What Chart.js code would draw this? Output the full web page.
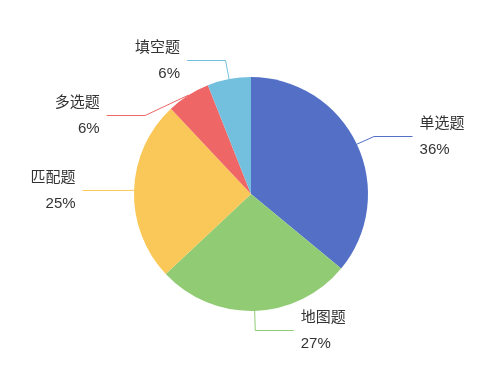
<!DOCTYPE html>
<html><head><meta charset="utf-8">
<script src="https://cdn.jsdelivr.net/npm/chart.js@4"></script>
<style>html,body{margin:0;padding:0;background:#fff;overflow:hidden}#wrap{width:499px;height:378px;position:relative}</style>
</head><body><div id="wrap"><canvas id="c" width="499" height="378"></canvas></div>
<script>
const categories = ['单选题', '地图题', '匹配题', '多选题', '填空题'];
const values = [36, 27, 25, 6, 6];
const colors = ['#5470c6', '#91cc75', '#fac858', '#ee6666', '#73c0de'];

const LEN1 = 19, LEN2 = 38.5, TEXT_GAP = 7, LABEL_H = 54.5, SHIFT_RA = 13;
const FONT = '15px "Liberation Sans", "Noto Sans CJK SC", sans-serif';

const labelPlugin = {
  id: 'pieLabels',
  afterDraw(chart) {
    const ctx = chart.ctx;
    const meta = chart.getDatasetMeta(0);
    const total = values.reduce((a, b) => a + b, 0);
    const items = meta.data.map((arc, i) => {
      const a = (arc.startAngle + arc.endAngle) / 2;
      const R = arc.outerRadius, cx = arc.x, cy = arc.y;
      const ex = cx + R * Math.cos(a), ey = cy + R * Math.sin(a);
      const bx = cx + (R + LEN1) * Math.cos(a), by = cy + (R + LEN1) * Math.sin(a);
      return { i, a, R, cx, cy, ex, ey, bx, by, y: by, dir: Math.cos(a) >= 0 ? 1 : -1 };
    });
    [1, -1].forEach(dir => {
      const side = items.filter(it => it.dir === dir).sort((p, q) => p.y - q.y);
      let anyShift = false;
      for (let k = 1; k < side.length; k++) {
        if (side[k].y < side[k - 1].y + LABEL_H) { side[k].y = side[k - 1].y + LABEL_H; anyShift = true; }
      }
      if (!anyShift) return;
      const cx = side[0].cx, cy = side[0].cy, R = side[0].R;
      const rA = R + SHIFT_RA;
      [side.filter(it => it.y < cy), side.filter(it => it.y >= cy)].forEach(semi => {
        if (!semi.length) return;
        let top = semi[0];
        semi.forEach(it => { if (Math.abs(it.y - cy) > Math.abs(top.y - cy)) top = it; });
        const dx0 = top.bx - cx, dy0 = Math.abs(top.y - cy);
        const rB = Math.abs(dx0) < rA ? Math.sqrt(dy0 * dy0 / (1 - dx0 * dx0 / (rA * rA))) : rA;
        semi.forEach(it => {
          if (it === top) return;
          const dy = Math.abs(it.y - cy);
          const dx = Math.sqrt(Math.max(0, 1 - dy * dy / (rB * rB))) * rA;
          it.bx = cx + dir * dx;
          it.by = it.y;
        });
      });
    });
    ctx.save();
    items.forEach(it => {
      const y = Math.round(it.y) + 0.5;
      const endX = it.bx + it.dir * LEN2;
      ctx.strokeStyle = colors[it.i];
      ctx.lineWidth = 1;
      ctx.beginPath();
      ctx.moveTo(it.ex, it.ey);
      ctx.lineTo(it.bx, y);
      ctx.lineTo(endX, y);
      ctx.stroke();
      ctx.fillStyle = '#333';
      ctx.font = FONT;
      ctx.textAlign = it.dir > 0 ? 'left' : 'right';
      ctx.textBaseline = 'alphabetic';
      const tx = endX + it.dir * TEXT_GAP;
      ctx.fillText(categories[it.i], tx, y - 9);
      ctx.fillText(Math.round(values[it.i] / total * 100) + '%', tx, y + 17.5);
    });
    ctx.restore();
  }
};

new Chart(document.getElementById('c'), {
  type: 'pie',
  data: { labels: categories, datasets: [{ data: values, backgroundColor: colors, borderWidth: 0, hoverOffset: 0 }] },
  options: {
    responsive: false,
    animation: false,
    devicePixelRatio: 1,
    layout: { padding: { left: 134, right: 131, top: 77, bottom: 67 } },
    plugins: { legend: { display: false }, tooltip: { enabled: false } }
  },
  plugins: [labelPlugin]
});
</script></body></html>
